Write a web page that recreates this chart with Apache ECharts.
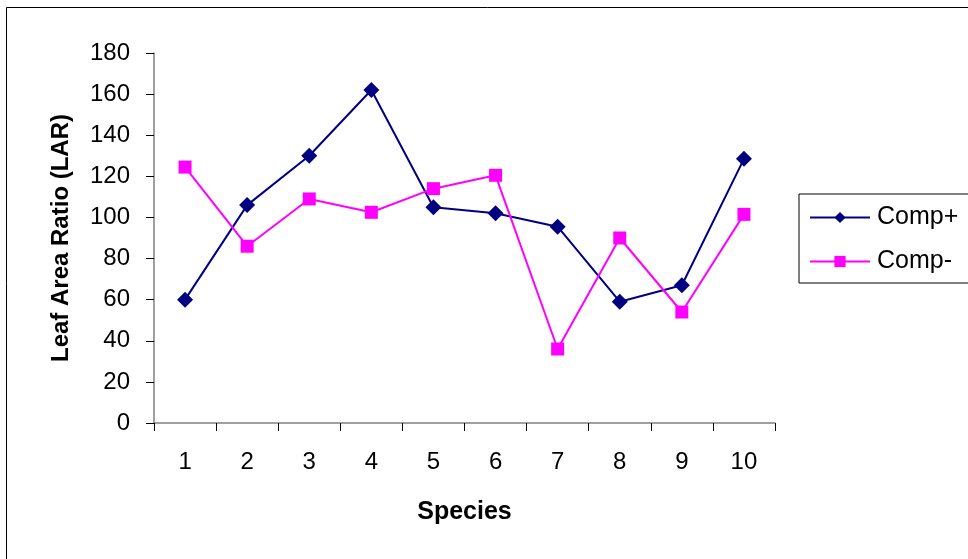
<!DOCTYPE html>
<html>
<head>
<meta charset="utf-8">
<script src="https://cdn.jsdelivr.net/npm/echarts@6/dist/echarts.min.js"></script>
<style>
  html, body { margin: 0; padding: 0; background: #fff; }
  #chart { width: 968px; height: 559px; }
</style>
</head>
<body>
<div id="chart"></div>
<script>
var species = ['1', '2', '3', '4', '5', '6', '7', '8', '9', '10'];
var compPlus = [60, 106, 130, 162, 105, 102, 95.5, 59, 67, 128.5];
var compMinus = [124.5, 86, 109, 102.5, 114, 120.5, 36, 90, 54, 101.5];

var font = 'Arial, "Liberation Sans", sans-serif';

var chart = echarts.init(document.getElementById('chart'));

var option = {
    backgroundColor: '#fff',
    animation: false,
    graphic: [{
        type: 'rect',
        shape: { x: 6.5, y: 7.5, width: 980, height: 600 },
        style: { fill: 'none', stroke: '#000', lineWidth: 1 }
    }],
    grid: {
        left: 154,
        top: 53,
        right: 193,
        bottom: 136
    },
    legend: {
        orient: 'vertical',
        left: 799,
        top: 194,
        padding: [11, 40, 9, 10],
        itemGap: 19,
        itemWidth: 60,
        itemHeight: 14,
        borderColor: '#000',
        borderWidth: 1,
        textStyle: { fontFamily: font, fontSize: 25, color: '#000', padding: [0, 0, 0, 2] },
        data: ['Comp+', 'Comp-']
    },
    xAxis: {
        type: 'category',
        data: species,
        boundaryGap: true,
        name: 'Species',
        nameLocation: 'middle',
        nameGap: 77,
        nameTextStyle: { fontFamily: font, fontSize: 25, fontWeight: 'bold', color: '#000' },
        axisLine: { lineStyle: { color: '#808080', width: 1.5 } },
        axisTick: { show: true, length: 8, alignWithLabel: false, lineStyle: { color: '#000' } },
        axisLabel: { fontFamily: font, fontSize: 24, color: '#000', margin: 27 },
        splitLine: { show: false }
    },
    yAxis: {
        type: 'value',
        min: 0,
        max: 180,
        interval: 20,
        name: 'Leaf Area Ratio (LAR)',
        nameLocation: 'middle',
        nameGap: 81,
        nameTextStyle: { fontFamily: font, fontSize: 24, fontWeight: 'bold', color: '#000' },
        axisLine: { show: true, lineStyle: { color: '#808080', width: 1.5 } },
        axisTick: { show: true, length: 8, lineStyle: { color: '#000' } },
        axisLabel: { fontFamily: font, fontSize: 24, color: '#000', margin: 24 },
        splitLine: { show: false }
    },
    series: [{
        name: 'Comp+',
        type: 'line',
        data: compPlus,
        symbol: 'diamond',
        symbolSize: 16,
        color: '#000080',
        lineStyle: { color: '#000080', width: 2 },
        itemStyle: { color: '#000080' }
    }, {
        name: 'Comp-',
        type: 'line',
        data: compMinus,
        symbol: 'rect',
        symbolSize: 13,
        color: '#FF00FF',
        lineStyle: { color: '#FF00FF', width: 2 },
        itemStyle: { color: '#FF00FF' }
    }]
};

chart.setOption(option);
</script>
</body>
</html>
